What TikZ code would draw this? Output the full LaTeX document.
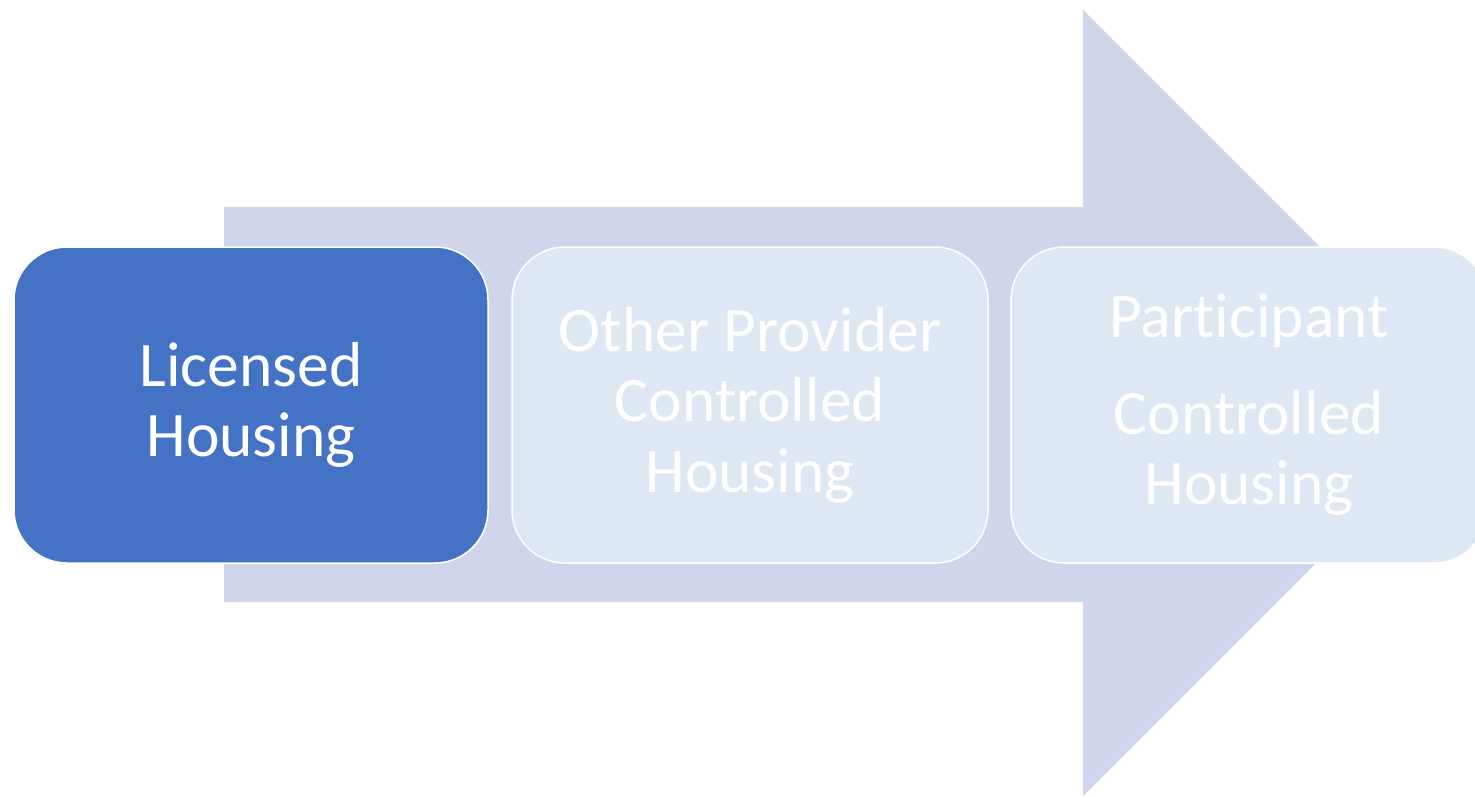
\documentclass[tikz,border=0pt]{standalone}
\usepackage{fontspec}
\setmainfont{Carlito}[Ligatures=NoCommon]
\usetikzlibrary{positioning}
\definecolor{arrowfill}{HTML}{CFD5EA}
\definecolor{darkbox}{HTML}{4472C4}
\definecolor{lightbox}{HTML}{DEE8F5}

\begin{document}
\begin{tikzpicture}[
    x=1pt, y=-1pt,
    stage/.style={rectangle, rounded corners=53pt, draw=white, line width=1.5pt,
      minimum height=316pt, text=white, align=center,
      font=\fontsize{63.5}{70.5}\selectfont},
    done/.style={stage, fill=darkbox, minimum width=474pt},
    todo/.style={stage, fill=lightbox, minimum width=476pt}
  ]
    \useasboundingbox (0,0) rectangle (1475,797);
    \clip (0,0) rectangle (1475,797);

    % big arrow behind
    \fill[arrowfill] (224,207) -- (1083,207) -- (1083,10) -- (1476,403)
      -- (1083,796) -- (1083,602) -- (224,602) -- cycle;

    % nodes
    \node[done] (licensed) at (251,405) {Licensed\\Housing};
    \node[todo] (provider) at (750,405) {Other Provider\\Controlled\\Housing};
    \node[todo] (participant) at (1249,405) {Participant\\[26pt]Controlled\\Housing};
  \end{tikzpicture}
\end{document}
